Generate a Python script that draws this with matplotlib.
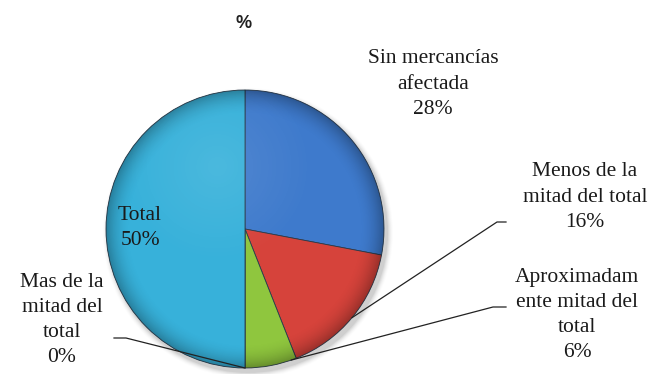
import numpy as np
import matplotlib
matplotlib.use("Agg")
import matplotlib.pyplot as plt
from matplotlib.patches import Circle
from matplotlib import font_manager as fm

# ---- data ----
categories = ["Sin mercancías afectada", "Menos de la mitad del total",
              "Aproximadamente mitad del total", "Mas de la mitad del total", "Total"]
label_texts = ["Sin mercancías\nafectada\n28%", "Menos de la\nmitad del total\n16%",
               "Aproximadam\nente mitad del\ntotal\n6%", "Mas de la\nmitad del\ntotal\n0%",
               "Total\n50%"]
values = [28, 16, 6, 0, 50]
colors = ["#3E7ACC", "#D6433B", "#8FC63E", "#3A7ACC", "#37B1DA"]
title = "%"

W, H = 655, 374
fig = plt.figure(figsize=(W / 100, H / 100), dpi=100)
ax = fig.add_axes([0, 0, 1, 1])

def px(x, y):
    return x, H - y

cx, cy = px(245, 229)
R = 139

# soft shadow
for i, a in enumerate(np.linspace(0.05, 0.01, 6)):
    ax.add_patch(Circle((cx + 3, cy - 4), R + 1 + i, color="black", alpha=a, lw=0, zorder=0))

wedges, _ = ax.pie(values, colors=colors, startangle=90, counterclock=False,
                   center=(cx, cy), radius=R, frame=True,
                   wedgeprops=dict(edgecolor="#2a3a4a", linewidth=0.6))
ax.set_xlim(0, W)
ax.set_ylim(0, H)
ax.set_aspect("equal")
ax.axis("off")

# radial shading for a 3D look
n = 300
xs = np.linspace(cx - R, cx + R, n)
ys = np.linspace(cy - R, cy + R, n)
X, Y = np.meshgrid(xs, ys)
r = np.hypot(X - cx, Y - cy) / R
shade = np.zeros((n, n, 4))
shade[..., 3] = np.clip((r - 0.82) / 0.18, 0, 1) ** 2 * 0.28
im = ax.imshow(shade, extent=(cx - R, cx + R, cy - R, cy + R), origin="lower", zorder=3)
im.set_clip_path(Circle((cx, cy), R, transform=ax.transData))
hl = np.zeros((n, n, 4))
hl[..., :3] = 1
hl[..., 3] = np.clip(1 - np.hypot(X - (cx - 0.2 * R), Y - (cy + 0.45 * R)) / (0.7 * R), 0, 1) * 0.10
im2 = ax.imshow(hl, extent=(cx - R, cx + R, cy - R, cy + R), origin="lower", zorder=3)
im2.set_clip_path(Circle((cx, cy), R, transform=ax.transData))
ax.set_xlim(0, W)
ax.set_ylim(0, H)

fs = 15.5
ls = 1.45
serif_path = fm.findfont(fm.FontProperties(family="Liberation Serif"))
serif_fp = fm.FontProperties(fname=serif_path, size=fs)

ax.text(*px(244, 23), title, ha="center", va="center", fontsize=13,
        fontweight="bold", family="Liberation Sans", color="#222222")

# cumulative angles for leader anchors
cum = np.concatenate([[0], np.cumsum(values)]) / np.sum(values)
def edge_point(frac):
    ang = np.deg2rad(90 - 360 * frac)
    return cx + R * np.cos(ang), cy + R * np.sin(ang)

tkw = dict(ha="center", va="center", fontproperties=serif_fp,
           linespacing=ls, zorder=5, color="#1a1a1a")
ax.text(*px(433, 84), label_texts[0], **tkw)
ax.text(*px(585, 197), label_texts[1], **tkw)
ax.text(*px(577, 315), label_texts[2], **tkw)
ax.text(*px(62, 320), label_texts[3], **tkw)
ax.text(*px(140, 228), label_texts[4], **tkw)

# leader lines
def leader(frac, knee, end):
    ex, ey = edge_point(frac)
    kx, ky = px(*knee)
    tx, ty = px(*end)
    ax.plot([ex, kx, tx], [ey, ky, ty], color="#222222", lw=0.9, zorder=6)

leader((cum[1] + cum[2]) / 2, (497, 222), (506, 222))
leader(cum[2] + 0.1 * (cum[3] - cum[2]), (493, 307), (506, 307))
leader(cum[3], (126, 338), (114, 338))

fig.savefig("out.png", dpi=100)
